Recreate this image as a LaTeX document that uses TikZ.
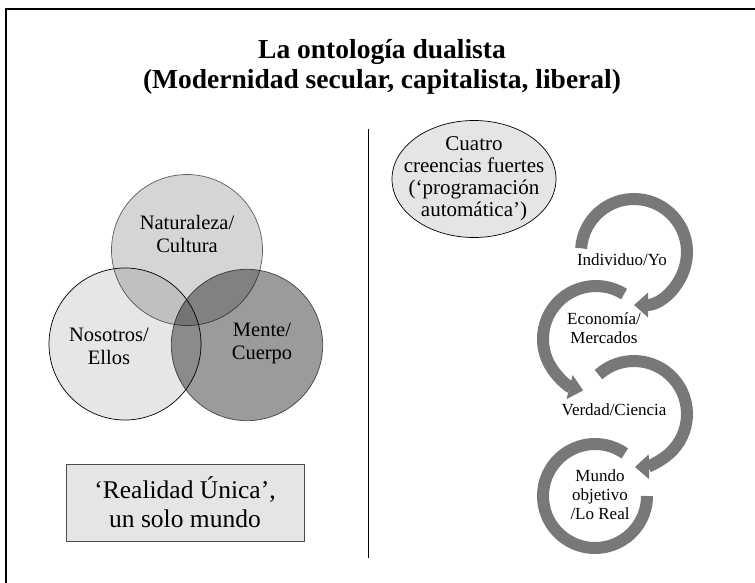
\documentclass[tikz,border=0pt]{standalone}
\usepackage{fontspec}
\setmainfont{Liberation Serif}
\usetikzlibrary{arrows.meta,shapes.geometric}
\definecolor{arcgray}{RGB}{120,120,120}
\definecolor{boxgray}{RGB}{229,229,229}
\definecolor{leftgray}{RGB}{229,230,229}
\definecolor{topgray}{RGB}{213,213,215}
\definecolor{rightgray}{RGB}{155,155,155}

\begin{document}
\begin{tikzpicture}[x=1pt,y=-1pt,
  venn/.style={line width=0.7pt},
  vennlabel/.style={align=center,inner sep=0pt,font=\fontsize{20.5}{23}\selectfont},
  cyclearc/.style={draw=arcgray,line width=12pt},
  cyclearrow/.style={cyclearc,-{Triangle[width=24pt,length=14pt]}},
  cyclelabel/.style={align=center,inner sep=0pt,font=\fontsize{17}{19}\selectfont}]
\useasboundingbox (0,0) rectangle (755,583);
\clip (0,0) rectangle (755,583);

% Frame and divider
\draw[line width=1.1pt] (6,600) |- (770,9);
\coordinate (divtop) at (368,129);
\coordinate (divbot) at (368,558);
\draw[line width=0.9pt] (divtop) -- (divbot);

% Title
\node[align=center,inner sep=0pt,font=\bfseries\fontsize{27.5}{30}\selectfont] (title) at (382,67)
  {La ontología dualista\\(Modernidad secular, capitalista, liberal)};

% Venn circles
\begin{scope}[blend group=multiply]
\draw[venn,fill=leftgray,draw=black] (125,344) circle[radius=76];
\draw[venn,fill=topgray,draw=gray!80!black] (187,250) circle[radius=75.5];
\draw[venn,fill=rightgray,draw=gray!70!black] (247,345) circle[radius=75.7];
\end{scope}
\node[vennlabel] (nature) at (187,234) {Naturaleza/\\Cultura};
\node[vennlabel] (us) at (109,346) {Nosotros/\\Ellos};
\node[vennlabel] (mind) at (262,343) {Mente/\\Cuerpo};

% Box
\node[draw=gray!60!black,fill=boxgray,line width=0.9pt,minimum width=238pt,minimum height=77pt,
  align=center,inner sep=0pt,font=\fontsize{25.5}{29}\selectfont] (unique) at (185,502.5)
  {‘Realidad Única’,\\un solo mundo};

% Ellipse
\node[ellipse,draw,fill=boxgray,line width=0.7pt,minimum width=164pt,minimum height=117pt] (beliefs) at (474,179) {};
\node[align=center,inner sep=0pt,font=\fontsize{21}{22}\selectfont] (beliefstext) at (beliefs.center)
  {Cuatro\\creencias fuertes\\(‘programación\\automática’)};

% Cycle arrows
\draw[cyclearrow] (634,252) ++(-176:53) arc[start angle=-176,end angle=90,radius=53];
\draw[cyclearrow] (596,339) ++(-58:53) arc[start angle=-58,end angle=-256,radius=53];
\draw[cyclearrow] (634,414) ++(-132:53) arc[start angle=-132,end angle=89,radius=53];
\draw[cyclearc] (595,496) ++(-55:52) arc[start angle=-55,end angle=-360,radius=52];

% Labels
\node[cyclelabel] (indiv) at (622,260) {Individuo/Yo};
\node[cyclelabel] (econ) at (604,328) {Economía/\\Mercados};
\node[cyclelabel] (truth) at (614,410) {Verdad/Ciencia};
\node[cyclelabel] (world) at (600,495) {Mundo\\objetivo\\/Lo Real};
\end{tikzpicture}
\end{document}
